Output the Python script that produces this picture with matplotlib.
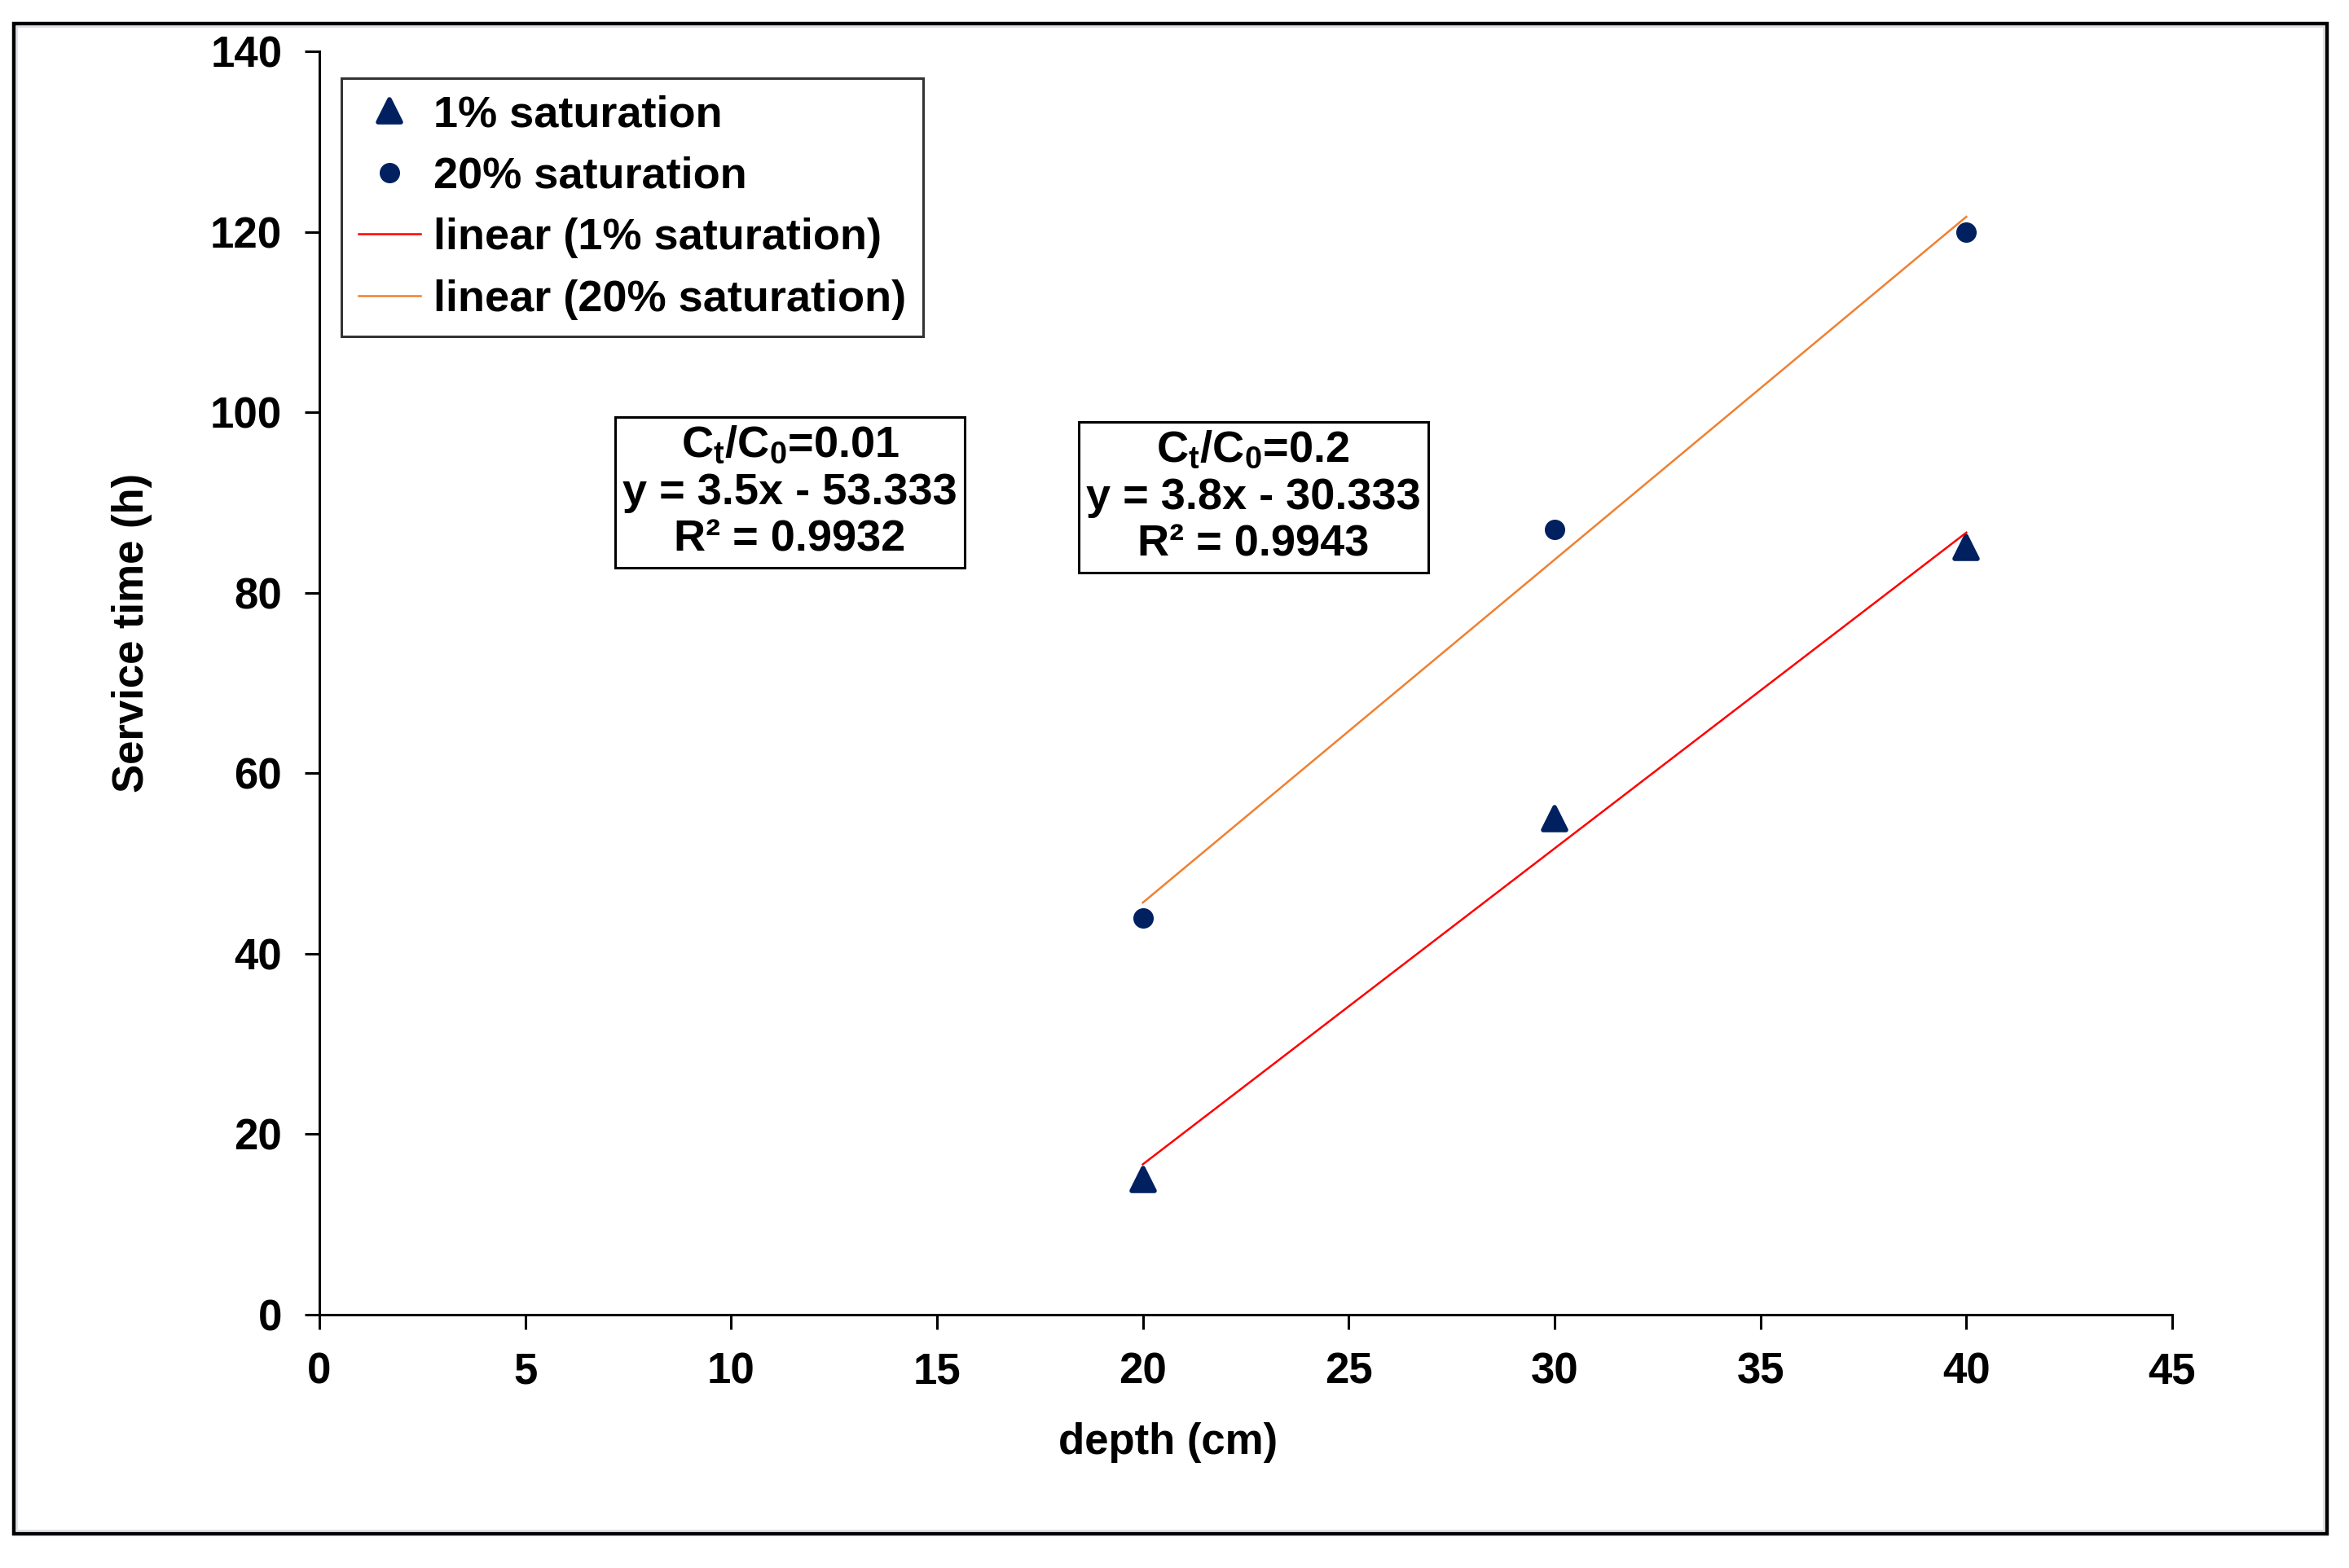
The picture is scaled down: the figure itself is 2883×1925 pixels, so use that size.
import numpy as np
import matplotlib
matplotlib.use("Agg")
import matplotlib.pyplot as plt
from matplotlib.patches import Rectangle
from matplotlib.markers import MarkerStyle

plt.rcParams['font.family'] = ['Liberation Sans', 'DejaVu Sans']
plt.rcParams['font.weight'] = 'bold'
plt.rcParams['mathtext.fontset'] = 'custom'
plt.rcParams['mathtext.rm'] = 'Liberation Sans:bold'
plt.rcParams['mathtext.it'] = 'Liberation Sans:bold'
plt.rcParams['mathtext.bf'] = 'Liberation Sans:bold'

# data
depth = [20, 30, 40]
sat1 = [15, 55, 85]
sat20 = [44, 87, 120]

xticks = list(range(0, 50, 5))
yticks = list(range(0, 160, 20))

box1_text = "C$_t$/C$_0$=0.01\ny = 3.5x - 53.333\nR² = 0.9932"
box2_text = "C$_t$/C$_0$=0.2\ny = 3.8x - 30.333\nR² = 0.9943"

navy = '#002060'
fs = 38

fig = plt.figure(figsize=(28.83, 19.25), dpi=100)
ax = fig.add_axes([392 / 2883, 1 - 1614 / 1925, 2274 / 2883, 1551 / 1925])

tri = MarkerStyle('^', joinstyle='round')
ax.plot(depth, sat1, linestyle='none', marker=tri, ms=20, color=navy,
        mec=navy, mew=4, label='1% saturation')
ax.plot(depth, sat20, linestyle='none', marker='o', ms=17, color=navy,
        label='20% saturation')

# linear fits
x = np.array(depth)
p1 = np.polyfit(x, sat1, 1)
p20 = np.polyfit(x, sat20, 1)
ax.plot(x, np.polyval(p1, x), color='#ff0000', lw=1.8, label='linear (1% saturation)')
ax.plot(x, np.polyval(p20, x), color='#f08030', lw=1.8, label='linear (20% saturation)')

ax.set_xlim(0, 45)
ax.set_ylim(0, 140)
ax.set_xticks(xticks)
ax.set_yticks(yticks)
for s in ['top', 'right']:
    ax.spines[s].set_visible(False)
for s in ['left', 'bottom']:
    ax.spines[s].set_linewidth(2.2)
ax.tick_params(direction='out', length=13, width=2.2, labelsize=fs, pad=20)

ax.set_xlabel('depth (cm)', fontsize=fs, fontweight='bold')
ax.set_ylabel('Service time (h)', fontsize=fs, fontweight='bold')
ax.xaxis.set_label_coords(0.458, -0.085)
ax.yaxis.set_label_coords(-0.09, 0.54)

leg = ax.legend(loc='upper left', bbox_to_anchor=(0.012, 0.979), borderaxespad=0,
                prop={'size': 39, 'weight': 'bold'}, frameon=True, fancybox=False,
                edgecolor='black', handlelength=1.4, handletextpad=0.3,
                labelspacing=0.47, borderpad=0.38, numpoints=1)
leg.get_frame().set_linewidth(2.2)

for txt, xc, yc in [(box1_text, 0.254, 0.651), (box2_text, 0.504, 0.647)]:
    ax.text(xc, yc, txt, transform=ax.transAxes, ha='center', va='center',
            fontsize=39, fontweight='bold', linespacing=1.2,
            bbox=dict(boxstyle='square,pad=0.17', fc='white', ec='black', lw=2.2))

# outer frame
fig.patches.append(Rectangle((17 / 2883, 1 - 1883 / 1925), (2856 - 17) / 2883,
                             (1883 - 29) / 1925, transform=fig.transFigure,
                             fill=False, ec='black', lw=3.2))
fig.patches.append(Rectangle((21 / 2883, 1 - 1879 / 1925), (2852 - 21) / 2883,
                             (1879 - 33) / 1925, transform=fig.transFigure,
                             fill=False, ec='#dde0e6', lw=1.5))

fig.savefig('out.png', dpi=100)
